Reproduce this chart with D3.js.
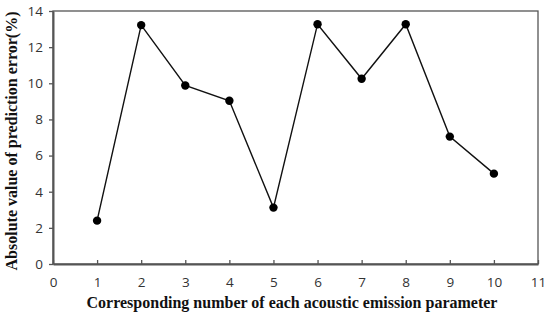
<!DOCTYPE html>
<html>
<head>
<meta charset="utf-8">
<script src="https://cdn.jsdelivr.net/npm/d3@7"></script>
<style>
  body { margin: 0; background: #fff; }
  .tick text { font-family: "Open Sans", "Noto Sans", sans-serif; }
</style>
</head>
<body>
<svg id="chart"></svg>
<script>
let width = 550
let height = 319
let margin = {top: 11, right: 12, bottom: 55, left: 53}

// data
let paramNumbers = [1, 2, 3, 4, 5, 6, 7, 8, 9, 10]
let errorValues = [2.4, 13.22, 9.88, 9.03, 3.12, 13.27, 10.25, 13.27, 7.05, 5.0]
let xTicks = [0, 1, 2, 3, 4, 5, 6, 7, 8, 9, 10, 11]
let yTicks = [0, 2, 4, 6, 8, 10, 12, 14]

let data = paramNumbers.map((n, i) => ({n: n, v: errorValues[i]}))

let innerW = width - margin.left - margin.right
let innerH = height - margin.top - margin.bottom

let xScale = d3.scaleLinear().domain([0, 11]).range([0, innerW])
let yScale = d3.scaleLinear().domain([0, 14]).range([innerH, 0])

let svg = d3.select("#chart")
    .attr("width", width)
    .attr("height", height)

let g = svg.append("g")
    .attr("transform", "translate(" + margin.left + "," + margin.top + ")")

// frame
g.append("rect")
    .attr("x", 0)
    .attr("y", 0)
    .attr("width", innerW)
    .attr("height", innerH)
    .attr("fill", "none")
    .attr("stroke", "#555")
    .attr("stroke-width", 1.3)

// x axis, ticks point inward
let xAxis = g.append("g")
    .attr("transform", "translate(0," + innerH + ")")
    .call(d3.axisBottom(xScale).tickValues(xTicks).tickSizeInner(-4).tickSizeOuter(0).tickPadding(13))
xAxis.select(".domain").attr("stroke", "#555").attr("stroke-width", 2)
xAxis.selectAll(".tick line").attr("stroke", "#555").attr("stroke-width", 1.3)
xAxis.selectAll(".tick text").attr("font-size", 13.5).attr("fill", "#333")

// y axis, ticks point outward
let yAxis = g.append("g")
    .call(d3.axisLeft(yScale).tickValues(yTicks).tickSizeInner(4).tickSizeOuter(0).tickPadding(6))
yAxis.select(".domain").attr("stroke", "#555").attr("stroke-width", 2)
yAxis.selectAll(".tick line").attr("stroke", "#555").attr("stroke-width", 1.3)
yAxis.selectAll(".tick text").attr("font-size", 13.5).attr("fill", "#333")

// line
let line = d3.line()
    .x(d => xScale(d.n))
    .y(d => yScale(d.v))

g.append("path")
    .datum(data)
    .attr("d", line)
    .attr("fill", "none")
    .attr("stroke", "#111")
    .attr("stroke-width", 1.4)

g.selectAll(".dot")
    .data(data)
    .enter()
    .append("circle")
    .attr("class", "dot")
    .attr("cx", d => xScale(d.n))
    .attr("cy", d => yScale(d.v))
    .attr("r", 4.2)
    .attr("fill", "#000")

// axis titles
svg.append("text")
    .text("Corresponding number of each acoustic emission parameter")
    .attr("x", 292)
    .attr("y", 308)
    .attr("text-anchor", "middle")
    .attr("font-family", "'Liberation Serif', serif")
    .attr("font-weight", "bold")
    .attr("font-size", 16)
    .attr("fill", "#111")

svg.append("text")
    .text("Absolute value of prediction error(%)")
    .attr("transform", "translate(17,141), rotate(-90)")
    .attr("text-anchor", "middle")
    .attr("font-family", "'Liberation Serif', serif")
    .attr("font-weight", "bold")
    .attr("font-size", 16)
    .attr("fill", "#111")
</script>
</body>
</html>
